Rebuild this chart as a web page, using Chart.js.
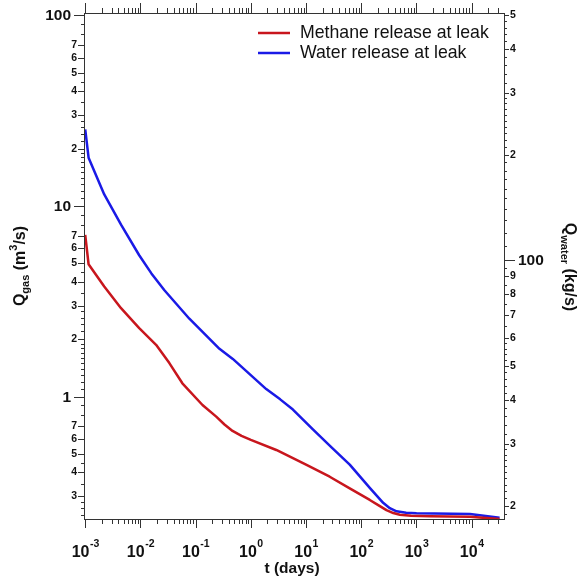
<!DOCTYPE html>
<html>
<head>
<meta charset="utf-8">
<script src="https://cdn.jsdelivr.net/npm/chart.js@4.4.1/dist/chart.umd.min.js"></script>
<style>
  html, body { margin: 0; padding: 0; background: #fff; }
</style>
</head>
<body>
<canvas id="leak" width="581" height="582"></canvas>
<script>
// methane release, left axis (m3/s)
const methaneDays = [0.001, 0.00115, 0.00221, 0.00445, 0.0095, 0.0192, 0.0334, 0.0575, 0.133, 0.236, 0.333, 0.466, 0.678, 1.0, 2.89, 10, 26.8, 61.8, 142.6, 210, 286, 380, 500, 800, 1750, 9300, 32000];
const methaneRate = [7.05, 4.95, 3.78, 2.91, 2.29, 1.87, 1.50, 1.175, 0.904, 0.785, 0.714, 0.661, 0.622, 0.5925, 0.525, 0.44, 0.38, 0.33, 0.287, 0.268, 0.254, 0.245, 0.240, 0.237, 0.236, 0.234, 0.228];

// water release, right axis (kg/s)
const waterDays = [0.001, 0.00115, 0.00221, 0.00445, 0.0095, 0.0158, 0.0272, 0.077, 0.27, 0.471, 1.9, 3.4, 5.78, 13.3, 28, 61.8, 142.6, 249, 329, 435, 650, 1000, 9300, 32000];
const waterRate = [236, 196, 154, 126.3, 103.4, 91.8, 82.2, 68.2, 56.0, 52.4, 43.0, 40.2, 37.6, 33.0, 29.5, 26.2, 22.5, 20.4, 19.7, 19.3, 19.12, 19.05, 18.97, 18.5];

// tick labels
const timeExponents = [-3, -2, -1, 0, 1, 2, 3, 4];
const gasMajor = [1, 10, 100];
const gasLabeled = [0.3, 0.4, 0.5, 0.6, 0.7, 2, 3, 4, 5, 6, 7, 20, 30, 40, 50, 60, 70];
const waterMajor = [100];
const waterLabeled = [20, 30, 40, 50, 60, 70, 80, 90, 200, 300, 400, 500];

const FONT = "'Liberation Sans', Arial, sans-serif";
const RED = "#c8161d";
const BLUE = "#1a1ae6";

function logTicks(decades, stepFor) {
  const out = [];
  decades.forEach((d) => {
    let m = 1;
    while (m < 10 - 1e-9) {
      out.push(+(m * d).toPrecision(6));
      m = +(m + stepFor(m)).toFixed(2);
    }
  });
  return out;
}
const has = (list, v) => list.some((u) => Math.abs(u - v) / v < 1e-6);
const mantissa = (v) => String(Math.round(v / Math.pow(10, Math.floor(Math.log10(v) + 1e-9))));

const gasTicks = logTicks([0.1, 1, 10, 100], (m) => (m < 2 ? 0.1 : m < 3 ? 0.2 : m < 5 ? 0.5 : 1));
const waterTicks = logTicks([10, 100], (m) => (m < 3 ? 0.1 : m < 6 ? 0.2 : 0.5));

const frame = {
  id: "frame",
  afterDraw(chart) {
    const { ctx, chartArea: a, scales } = chart;
    const sx = scales.x, yg = scales.y, yw = scales.y1;
    ctx.save();
    ctx.strokeStyle = "#333";
    ctx.fillStyle = "#111";
    ctx.lineWidth = 1;
    ctx.strokeRect(a.left + 0.5, a.top + 0.5, a.right - a.left, a.bottom - a.top);

    const line = (x1, y1, x2, y2) => {
      ctx.beginPath();
      ctx.moveTo(x1, y1);
      ctx.lineTo(x2, y2);
      ctx.stroke();
    };

    // time axis ticks, bottom and top
    timeExponents.forEach((e) => {
      for (let k = 1; k < 10; k++) {
        const v = k * Math.pow(10, e);
        if (v < sx.min || v > sx.max) continue;
        const px = Math.round(sx.getPixelForValue(v)) + 0.5;
        const major = k === 1;
        line(px, a.bottom + 1, px, a.bottom + (major ? 9 : 5));
        line(px, a.top, px, a.top - (major ? 10 : 5));
      }
      const px = sx.getPixelForValue(Math.pow(10, e));
      ctx.font = "bold 16px " + FONT;
      const w10 = ctx.measureText("10").width;
      ctx.font = "bold 10.5px " + FONT;
      const wExp = ctx.measureText(String(e)).width;
      const x0 = px - (w10 + wExp) / 2;
      ctx.textAlign = "left";
      ctx.textBaseline = "alphabetic";
      ctx.font = "bold 16px " + FONT;
      ctx.fillText("10", x0, 557);
      ctx.font = "bold 10.5px " + FONT;
      ctx.fillText(String(e), x0 + w10 + 0.5, 547);
    });
    ctx.font = "bold 15.5px " + FONT;
    ctx.textAlign = "center";
    ctx.fillText("t (days)", 292, 573);

    // gas axis (left)
    ctx.textBaseline = "middle";
    gasTicks.forEach((v) => {
      if (v < yg.min || v > yg.max) return;
      const py = Math.round(yg.getPixelForValue(v)) + 0.5;
      if (has(gasMajor, v)) {
        line(a.left - 10, py, a.left, py);
        ctx.font = "bold 15.5px " + FONT;
        ctx.textAlign = "right";
        ctx.fillText(String(v), a.left - 13, py);
      } else if (has(gasLabeled, v)) {
        line(a.left - 6, py, a.left, py);
        ctx.font = "bold 10.5px " + FONT;
        ctx.textAlign = "right";
        ctx.fillText(mantissa(v), a.left - 7, py);
      } else {
        line(a.left - 3, py, a.left, py);
      }
    });

    // water axis (right)
    waterTicks.forEach((v) => {
      if (v < yw.min || v > yw.max) return;
      const py = Math.round(yw.getPixelForValue(v)) + 0.5;
      if (has(waterMajor, v)) {
        line(a.right, py, a.right + 11, py);
        ctx.font = "bold 15.5px " + FONT;
        ctx.textAlign = "left";
        ctx.fillText(String(v), a.right + 14, py);
      } else if (has(waterLabeled, v)) {
        line(a.right, py, a.right + 5, py);
        ctx.font = "bold 10.5px " + FONT;
        ctx.textAlign = "left";
        ctx.fillText(mantissa(v), a.right + 6, py);
      } else {
        line(a.right, py, a.right + 3, py);
      }
    });

    // axis titles with sub/superscripts
    const rich = (parts, cx, cy, angle) => {
      ctx.save();
      ctx.translate(cx, cy);
      ctx.rotate(angle);
      ctx.textAlign = "left";
      ctx.textBaseline = "alphabetic";
      let total = 0;
      parts.forEach((p) => {
        ctx.font = "bold " + p.size + "px " + FONT;
        total += ctx.measureText(p.text).width;
      });
      let x = -total / 2;
      parts.forEach((p) => {
        ctx.font = "bold " + p.size + "px " + FONT;
        ctx.fillText(p.text, x, p.dy);
        x += ctx.measureText(p.text).width;
      });
      ctx.restore();
    };
    rich([
      { text: "Q", size: 16, dy: 0 },
      { text: "gas", size: 11, dy: 4 },
      { text: " (m", size: 16, dy: 0 },
      { text: "3", size: 11, dy: -8 },
      { text: "/s)", size: 16, dy: 0 },
    ], 25, 266, -Math.PI / 2);
    rich([
      { text: "Q", size: 16, dy: 0 },
      { text: "water", size: 11, dy: 4 },
      { text: " (kg/s)", size: 16, dy: 0 },
    ], 565, 267, Math.PI / 2);

    // legend inside plot
    ctx.font = "17.7px " + FONT;
    ctx.textAlign = "left";
    ctx.textBaseline = "middle";
    chart.data.datasets.forEach((ds, i) => {
      const ly = 33 + i * 20;
      ctx.strokeStyle = ds.borderColor;
      ctx.lineWidth = 2.5;
      line(258, ly, 290, ly);
      ctx.fillStyle = "#111";
      ctx.fillText(ds.label, 300, ly);
    });
    ctx.restore();
  },
};

const hidden = {
  grid: { display: false },
  border: { display: false },
  ticks: { display: false },
  bounds: "data",
};

new Chart(document.getElementById("leak"), {
  type: "line",
  data: {
    datasets: [
      {
        label: "Methane release at leak",
        data: methaneDays.map((t, i) => ({ x: t, y: methaneRate[i] })),
        borderColor: RED,
        yAxisID: "y",
      },
      {
        label: "Water release at leak",
        data: waterDays.map((t, i) => ({ x: t, y: waterRate[i] })),
        borderColor: BLUE,
        yAxisID: "y1",
      },
    ],
  },
  options: {
    responsive: false,
    animation: false,
    layout: { padding: { top: 13, left: 0, right: 0, bottom: 0 } },
    plugins: { legend: { display: false }, tooltip: { enabled: false } },
    elements: {
      point: { radius: 0 },
      line: { borderWidth: 2.5, tension: 0, borderJoinStyle: "round" },
    },
    scales: {
      x: { type: "logarithmic", position: "bottom", min: 0.00095, max: 38500, ...hidden,
        afterFit: (s) => { s.height = 63; } },
      y: { type: "logarithmic", position: "left", min: 0.228, max: 103, ...hidden,
        afterFit: (s) => { s.width = 84; } },
      y1: { type: "logarithmic", position: "right", min: 18.35, max: 506, ...hidden,
        afterFit: (s) => { s.width = 77; } },
    },
  },
  plugins: [frame],
});
</script>
</body>
</html>
